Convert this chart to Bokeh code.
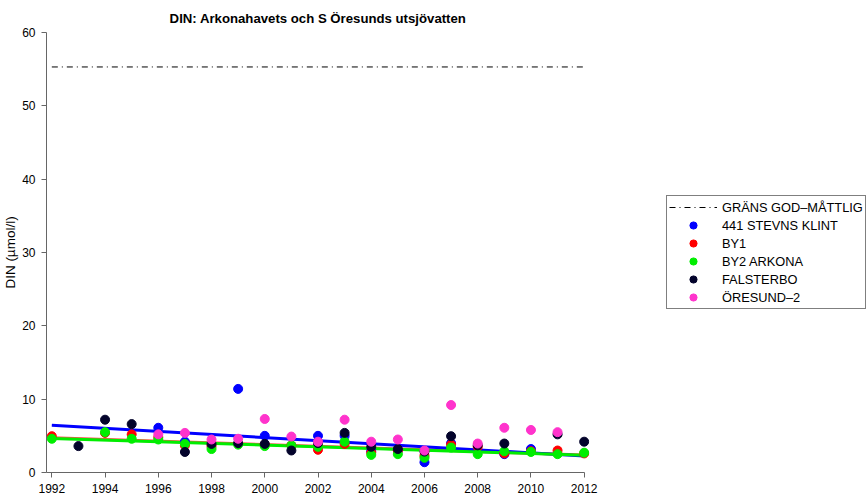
from bokeh.plotting import figure
from bokeh.models import Range1d, Legend, LegendItem, FixedTicker
from bokeh.embed import file_html
from bokeh.resources import INLINE

# ---- data ----
title_text = "DIN: Arkonahavets och S Öresunds utsjövatten"
y_label = "DIN (µmol/l)"
x_ticks = list(range(1992, 2013, 2))
y_ticks = [0, 10, 20, 30, 40, 50, 60]

limit_years = [1992, 2012]
limit_value = [55.3, 55.3]

stevns_years = [1996, 1997, 1999, 2000, 2002, 2003, 2004, 2005, 2006, 2007, 2009, 2010]
stevns_din = [6.1, 4.2, 11.4, 5.0, 5.0, 5.0, 2.9, 3.0, 1.4, 4.0, 2.5, 3.2]

by1_years = [1992, 1994, 1995, 1996, 1997, 1998, 2000, 2001, 2002, 2003, 2004,
             2005, 2006, 2007, 2008, 2009, 2010, 2011, 2012]
by1_din = [4.95, 5.4, 5.2, 4.8, 3.7, 3.6, 3.8, 3.7, 3.1, 3.9, 2.7,
           3.0, 2.3, 3.8, 3.5, 2.6, 2.9, 3.0, 2.6]

by2_years = [1992, 1994, 1995, 1996, 1997, 1998, 1999, 2000, 2001, 2002, 2003,
             2004, 2005, 2006, 2007, 2008, 2009, 2010, 2011, 2012]
by2_din = [4.6, 5.5, 4.6, 4.5, 3.9, 3.2, 3.8, 3.6, 3.7, 3.5, 4.2,
           2.4, 2.5, 2.0, 3.4, 2.5, 2.9, 2.8, 2.5, 2.7]

falsterbo_years = [1993, 1994, 1995, 1997, 1998, 1999, 2000, 2001, 2002, 2003,
                   2004, 2005, 2006, 2007, 2008, 2009, 2011, 2012]
falsterbo_din = [3.6, 7.2, 6.6, 2.8, 3.9, 4.0, 3.9, 3.0, 4.0, 5.4,
                 3.5, 3.2, 2.85, 4.95, 3.7, 3.95, 5.2, 4.2]

oresund_years = [1996, 1997, 1998, 1999, 2000, 2001, 2002, 2003, 2004, 2005,
                 2006, 2007, 2008, 2009, 2010, 2011]
oresund_din = [5.2, 5.4, 4.5, 4.6, 7.3, 4.9, 4.2, 7.2, 4.2, 4.5,
               3.0, 9.2, 3.95, 6.1, 5.8, 5.5]

trend_years = [1992, 2012]
stevns_trend = [6.45, 2.25]
by1_trend = [4.75, 2.4]
by2_trend = [4.65, 2.35]

FONT = "Liberation Sans"

p = figure(frame_width=543, frame_height=440,
           x_range=Range1d(1991.8, 2012.2), y_range=Range1d(0, 60),
           output_backend="svg", toolbar_location=None,
           min_border_left=44, min_border_right=272,
           min_border_top=32, min_border_bottom=26)

p.title.text = title_text
p.title.align = "center"
p.title.text_font = FONT
p.title.text_font_size = "13.2px"
p.title.text_font_style = "bold"
p.title.text_color = "black"
p.title.standoff = 14

p.outline_line_color = None
p.xgrid.visible = False
p.ygrid.visible = False

for ax in (p.xaxis[0], p.yaxis[0]):
    ax.axis_line_color = "#666666"
    ax.major_tick_line_color = "#666666"
    ax.minor_tick_line_color = None
    ax.major_tick_in = 0
    ax.major_tick_out = 5
    ax.major_label_text_font = FONT
    ax.major_label_text_font_size = "12px"
    ax.major_label_text_color = "black"
    ax.axis_label_text_font = FONT
    ax.axis_label_text_font_size = "13.5px"
    ax.axis_label_text_font_style = "normal"
    ax.axis_label_text_color = "black"
    ax.major_label_standoff = 6

p.xaxis.ticker = FixedTicker(ticks=x_ticks)
p.yaxis.ticker = FixedTicker(ticks=y_ticks)
p.xaxis.bounds = (1991.8, 2012)
p.yaxis.axis_label = y_label
p.yaxis.axis_label_standoff = 1

lim = p.line(limit_years, limit_value, line_color="black", line_width=1,
             line_dash="6 4 1 4")

p.line(trend_years, by1_trend, line_color="#ff3b3b", line_width=3, line_alpha=0.9)
p.line(trend_years, stevns_trend, line_color="#0000ff", line_width=3)
p.line(trend_years, by2_trend, line_color="#00ee00", line_width=3)

SZ = 9
r1 = p.scatter(stevns_years, stevns_din, size=SZ, color="#0000ff")
r2 = p.scatter(by1_years, by1_din, size=SZ, color="#ff0000")
r3 = p.scatter(by2_years, by2_din, size=SZ, color="#00ee00")
r4 = p.scatter(falsterbo_years, falsterbo_din, size=SZ, color="#03032b")
r5 = p.scatter(oresund_years, oresund_din, size=SZ, color="#ff33cc")

legend = Legend(items=[
    LegendItem(label="GRÄNS GOD–MÅTTLIG", renderers=[lim]),
    LegendItem(label="441 STEVNS KLINT", renderers=[r1]),
    LegendItem(label="BY1", renderers=[r2]),
    LegendItem(label="BY2 ARKONA", renderers=[r3]),
    LegendItem(label="FALSTERBO", renderers=[r4]),
    LegendItem(label="ÖRESUND–2", renderers=[r5]),
], location=(77, 163))
legend.border_line_color = "black"
legend.border_line_width = 1
legend.background_fill_color = "white"
legend.background_fill_alpha = 1
legend.padding = 2
legend.margin = 0
legend.spacing = 0
legend.glyph_width = 48
legend.glyph_height = 18
legend.label_height = 18
legend.label_standoff = 5
legend.label_text_font = FONT
legend.label_text_font_size = "12.8px"
legend.label_text_color = "black"
p.add_layout(legend, "right")

open("out.html", "w").write(file_html(p, INLINE))
